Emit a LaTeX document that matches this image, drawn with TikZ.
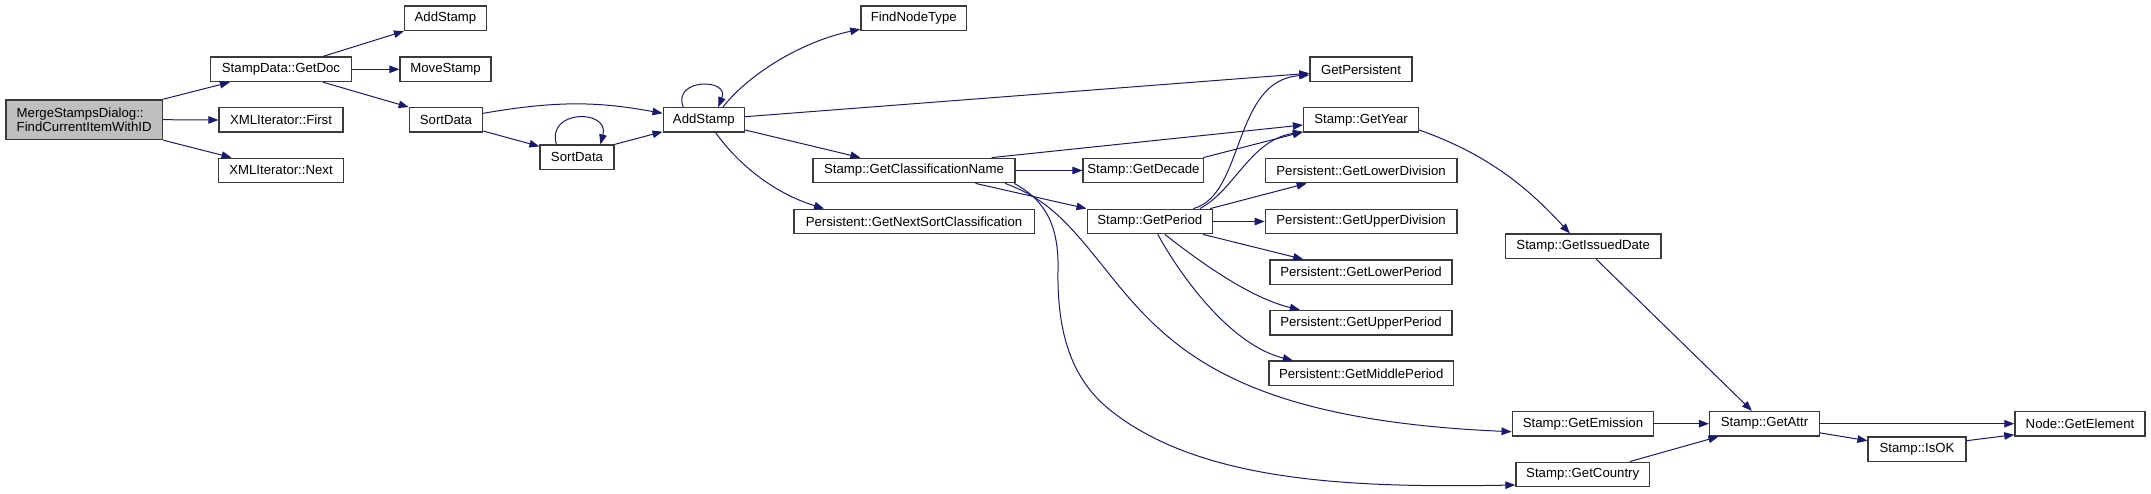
\documentclass[tikz,border=0pt]{standalone}
\usepackage{fontspec}
\setmainfont{Liberation Sans}
\usetikzlibrary{arrows.meta,calc}
\definecolor{edgeblue}{HTML}{191970}
\definecolor{boxline}{HTML}{3A3A3A}
\definecolor{rootfill}{HTML}{BFBFBF}
\begin{document}
\begin{tikzpicture}[x=1pt,y=-1pt,
  box/.style={draw=boxline,line width=1.4pt,fill=white,inner sep=0pt,
    minimum height=24.4pt,font=\fontsize{13.2}{14.5}\selectfont},
  rootbox/.style={box,fill=rootfill,minimum height=39.5pt,align=left,inner xsep=9pt},
  edge/.style={draw=edgeblue,line width=1pt,-{Triangle[length=10pt,width=7.5pt]}}]
\useasboundingbox (0,0) rectangle (2151,494);
% nodes
\node[rootbox,minimum width=156.3pt] (Merge) at (84.2,119.7) {MergeStampsDialog::\\FindCurrentItemWithID};
\node[box,minimum width=140.8pt] (GetDoc) at (281,69.3) {StampData::GetDoc};
\node[box,minimum width=123.8pt] (First) at (281,120) {XMLIterator::First};
\node[box,minimum width=125.5pt] (Next) at (281,170.5) {XMLIterator::Next};
\node[box,minimum width=81.8pt] (AddStampTop) at (445.5,18.3) {AddStamp};
\node[box,minimum width=91.1pt] (MoveStamp) at (445.6,69.3) {MoveStamp};
\node[box,minimum width=73.1pt] (SortData1) at (445.9,120) {SortData};
\node[box,minimum width=73.8pt] (SortData2) at (577,157.3) {SortData};
\node[box,minimum width=81.2pt] (AddStamp) at (703.8,120) {AddStamp};
\node[box,minimum width=105.8pt] (FindNodeType) at (913.8,18.3) {FindNodeType};
\node[box,minimum width=102.1pt] (GetPersistent) at (1361,69.3) {GetPersistent};
\node[box,minimum width=114.8pt] (GetYear) at (1361,120) {Stamp::GetYear};
\node[box,minimum width=201.8pt] (ClassName) at (914,170.5) {Stamp::GetClassificationName};
\node[box,minimum width=120.5pt] (GetDecade) at (1143.4,170.5) {Stamp::GetDecade};
\node[box,minimum width=191.5pt] (LowerDivision) at (1361.1,170.5) {Persistent::GetLowerDivision};
\node[box,minimum width=240.4pt] (NextSort) at (914,221.5) {Persistent::GetNextSortClassification};
\node[box,minimum width=125.2pt] (GetPeriod) at (1149.8,221.5) {Stamp::GetPeriod};
\node[box,minimum width=191.5pt] (UpperDivision) at (1361.1,221.5) {Persistent::GetUpperDivision};
\node[box,minimum width=182.1pt] (LowerPeriod) at (1361,272.2) {Persistent::GetLowerPeriod};
\node[box,minimum width=182.1pt] (UpperPeriod) at (1361,322.7) {Persistent::GetUpperPeriod};
\node[box,minimum width=184.3pt] (MiddlePeriod) at (1361.2,373.3) {Persistent::GetMiddlePeriod};
\node[box,minimum width=155.3pt] (IssuedDate) at (1583.2,246.3) {Stamp::GetIssuedDate};
\node[box,minimum width=141.5pt] (Emission) at (1583,423.7) {Stamp::GetEmission};
\node[box,minimum width=109.8pt] (GetAttr) at (1764.5,423.7) {Stamp::GetAttr};
\node[box,minimum width=130.1pt] (GetElement) at (2080,423.7) {Node::GetElement};
\node[box,minimum width=97.8pt] (IsOK) at (1917,449.3) {Stamp::IsOK};
\node[box,minimum width=133.4pt] (GetCountry) at (1582.7,474.5) {Stamp::GetCountry};
% edges
\draw[edge] (Merge.north east) -- ($(GetDoc.south west)+(20,0)$);
\draw[edge] (Merge.east) -- (First.west);
\draw[edge] (Merge.south east) -- ($(Next.north west)+(14,0)$);
\draw[edge] ($(GetDoc.north)+(42,0)$) -- (AddStampTop.south west);
\draw[edge] (GetDoc.east) -- (MoveStamp.west);
\draw[edge] ($(GetDoc.south)+(42,0)$) -- (SortData1.north west);
\draw[edge] ($(SortData1.east)+(0,-6.7)$) .. controls (560,100) and (600,102) .. ($(AddStamp.west)+(0,-6.7)$);
\draw[edge] ($(SortData1.east)+(0,11)$) -- ($(SortData2.north west)+(0,2)$);
\draw[edge] ($(SortData2.north west)+(17,0)$) .. controls (546,109) and (610,109) .. ($(SortData2.north west)+(61,0)$);
\draw[edge] (SortData2.north east) -- ($(AddStamp.west)+(0,11.7)$);
\draw[edge] ($(AddStamp.north west)+(20.7,0)$) .. controls (672,78) and (730,78) .. ($(AddStamp.north west)+(55.7,0)$);
\draw[edge] ($(AddStamp.north west)+(60.4,0)$) .. controls (748,75) and (800,42) .. ($(FindNodeType.south west)+(0,-2)$);
\draw[edge] ($(AddStamp.east)+(0,-3.3)$) -- ($(GetPersistent.west)+(0,4)$);
\draw[edge] ($(AddStamp.east)+(0,10)$) -- ($(ClassName.north west)+(48,0)$);
\draw[edge] ($(AddStamp.south)+(12,0)$) .. controls (735,160) and (770,192) .. ($(NextSort.north west)+(31,0)$);
\draw[edge] ($(ClassName.north)+(77.6,0)$) -- ($(GetYear.west)+(0,5)$);
\draw[edge] (ClassName.east) -- (GetDecade.west);
\draw[edge] ($(ClassName.south)+(61.5,0)$) -- (GetPeriod.north west);
\draw[edge] ($(ClassName.south east)+(-10.5,0)$) .. controls (1050,200) and (1070,225) .. (1110,275)
  .. controls (1170,350) and (1240,420) .. ($(Emission.west)+(0,8)$);
\draw[edge] ($(ClassName.south east)+(-1.5,0)$) .. controls (1045,200) and (1059,225) .. (1058,270)
  .. controls (1057,330) and (1070,378) .. (1110,410)
  .. controls (1200,482) and (1350,488) .. ($(GetCountry.west)+(0,10.5)$);
\draw[edge] ($(GetDecade.north east)+(-1,0)$) -- ($(GetYear.south west)+(0,-1)$);
\draw[edge] ($(GetPeriod.north)+(43.5,0)$) .. controls (1245,195) and (1232,80) .. ($(GetPersistent.west)+(0,5.7)$);
\draw[edge] ($(GetPeriod.north)+(50,0)$) .. controls (1235,190) and (1250,140) .. ($(GetYear.south west)+(0,-1)$);
\draw[edge] ($(GetPeriod.north east)+(-3,0)$) -- ($(LowerDivision.south west)+(42,0)$);
\draw[edge] (GetPeriod.east) -- (UpperDivision.west);
\draw[edge] ($(GetPeriod.south east)+(-10,0)$) -- ($(LowerPeriod.north west)+(34,0)$);
\draw[edge] ($(GetPeriod.south)+(15,0)$) .. controls (1200,262) and (1250,298) .. ($(UpperPeriod.north west)+(30.6,0)$);
\draw[edge] ($(GetPeriod.south)+(8,0)$) .. controls (1180,275) and (1230,345) .. ($(MiddlePeriod.north west)+(24.5,0)$);
\draw[edge] ($(GetYear.east)+(0,10)$) .. controls (1490,155) and (1530,190) .. ($(IssuedDate.north west)+(65,0)$);
\draw[edge] ($(IssuedDate.south)+(13,0)$) -- ($(GetAttr.north west)+(43,0)$);
\draw[edge] (Emission.east) -- (GetAttr.west);
\draw[edge] ($(GetCountry.north)+(47,0)$) -- ($(GetAttr.south west)+(9.5,0)$);
\draw[edge] (GetAttr.east) -- (GetElement.west);
\draw[edge] ($(GetAttr.south east)+(0,-3.7)$) -- ($(IsOK.west)+(0,-8.6)$);
\draw[edge] ($(IsOK.east)+(0,-8.6)$) -- ($(GetElement.west)+(0,11)$);
\end{tikzpicture}
\end{document}
